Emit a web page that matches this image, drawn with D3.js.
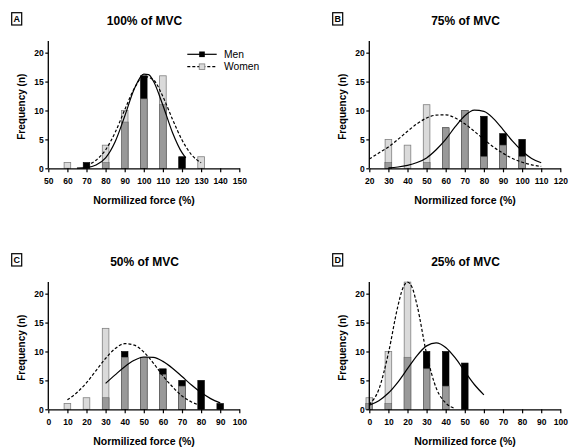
<!DOCTYPE html>
<html>
<head>
<meta charset="utf-8">
<script src="https://cdn.jsdelivr.net/npm/d3@7/dist/d3.min.js"></script>
<style>
  html, body { margin: 0; padding: 0; background: #fff; }
  svg { display: block; font-family: "Liberation Sans", Arial, sans-serif; }
</style>
</head>
<body>
<svg id="chart" width="569" height="447"></svg>
<script>
// ---------- DATA ----------
const panelLabels = ["A", "B", "C", "D"];
const panelTitles = ["100% of MVC", "75% of MVC", "50% of MVC", "25% of MVC"];
const xDomains = [[50, 150], [20, 120], [0, 100], [0, 100]];
const xTicksA = [50, 60, 70, 80, 90, 100, 110, 120, 130, 140, 150];
const xTicksB = [20, 30, 40, 50, 60, 70, 80, 90, 100, 110, 120];
const xTicksC = [0, 10, 20, 30, 40, 50, 60, 70, 80, 90, 100];
const xTicksD = [0, 10, 20, 30, 40, 50, 60, 70, 80, 90, 100];
const yTicks = [0, 5, 10, 15, 20];
const yMax = 22;
const seriesNames = ["Men", "Women"];
const xTitle = "Normilized force (%)";
const yTitle = "Frequency (n)";

// histogram bins
const binsA = [60, 70, 80, 90, 100, 110, 120, 130];
const menA = [0, 1, 1, 8, 16, 11, 2, 0];
const womenA = [1, 0, 4, 10, 12, 16, 0, 2];

const binsB = [30, 40, 50, 60, 70, 80, 90, 100];
const menB = [1, 0, 1, 7, 10, 9, 6, 5];
const womenB = [5, 4, 11, 7, 10, 2, 4, 2];

const binsC = [10, 20, 30, 40, 50, 60, 70, 80, 90];
const menC = [0, 0, 2, 10, 9, 7, 5, 5, 1];
const womenC = [1, 2, 14, 9, 9, 6, 4, 0, 0];

const binsD = [0, 10, 20, 30, 40, 50];
const menD = [1, 1, 9, 10, 10, 8];
const womenD = [2, 10, 22, 7, 4, 0];

// fitted curves
const menCurveXA = [65, 70, 75, 80, 85, 90, 95, 100, 102.5, 105, 110, 115, 120, 122];
const menCurveYA = [0.02, 0.13, 0.56, 1.8, 4.6, 9.0, 13.7, 16.3, 16.2, 15.1, 10.9, 6.2, 2.7, 1.8];
const womenCurveXA = [70, 75, 80, 85, 90, 95, 100, 105, 110, 115, 120, 125, 130];
const womenCurveYA = [0.51, 1.4, 3.2, 6.2, 10.1, 13.8, 15.9, 15.3, 12.4, 8.5, 4.9, 2.35, 0.95];

const menCurveXB = [30, 35, 40, 45, 50, 55, 60, 65, 70, 75, 80, 85, 90, 95, 100, 105, 110];
const menCurveYB = [0.08, 0.22, 0.5, 1.0, 1.8, 3.2, 5.0, 7.2, 9.1, 10.05, 9.85, 8.6, 6.7, 4.7, 3.0, 1.7, 0.95];
const womenCurveXB = [20, 25, 30, 35, 40, 45, 50, 55, 60, 65, 70, 75, 80, 85, 90, 95, 100, 105, 110];
const womenCurveYB = [1.6, 2.65, 3.7, 5.0, 6.4, 7.7, 8.7, 9.2, 9.25, 8.7, 7.7, 6.4, 5.0, 3.7, 2.6, 1.7, 1.05, 0.6, 0.33];

const menCurveXC = [30, 35, 40, 45, 50, 55, 60, 65, 70, 75, 80, 85, 90];
const menCurveYC = [4.48, 5.96, 7.37, 8.47, 9.05, 8.98, 8.29, 7.11, 5.67, 4.2, 2.89, 1.85, 1.1];
const womenCurveXC = [10, 15, 20, 25, 30, 35, 40, 45, 50, 55, 60, 65, 70, 75, 80];
const womenCurveYC = [1.64, 2.9, 4.6, 6.7, 8.8, 10.5, 11.35, 11.1, 9.9, 8.0, 5.8, 3.9, 2.3, 1.27, 0.63];

const menCurveXD = [0, 5, 10, 15, 20, 25, 30, 35, 40, 45, 50, 55, 60];
const menCurveYD = [0.7, 1.49, 2.81, 4.71, 7.02, 9.3, 10.97, 11.5, 10.7, 8.88, 6.54, 4.29, 2.5];
const womenCurveXD = [0, 5, 10, 15, 17.5, 20, 22.5, 25, 30, 35, 40, 45];
const womenCurveYD = [0.82, 3.46, 9.7, 17.9, 20.9, 22, 21.0, 18.0, 9.6, 3.7, 1.1, 0.15];

// ---------- BUILD ----------
const panels = [
  { xTicks: xTicksA, bins: binsA, men: menA, women: womenA, mcx: menCurveXA, mcy: menCurveYA, wcx: womenCurveXA, wcy: womenCurveYA },
  { xTicks: xTicksB, bins: binsB, men: menB, women: womenB, mcx: menCurveXB, mcy: menCurveYB, wcx: womenCurveXB, wcy: womenCurveYB },
  { xTicks: xTicksC, bins: binsC, men: menC, women: womenC, mcx: menCurveXC, mcy: menCurveYC, wcx: womenCurveXC, wcy: womenCurveYC },
  { xTicks: xTicksD, bins: binsD, men: menD, women: womenD, mcx: menCurveXD, mcy: menCurveYD, wcx: womenCurveXD, wcy: womenCurveYD }
];
const offsets = [[0, 0], [321, 0], [0, 241], [321, 241]];

const COL_MEN = "#000000";
const COL_WOMEN = "#dadada";
const COL_OVER = "#999999";

const svg = d3.select("#chart");

const X0 = 48.3, X1 = 239.3, YB = 168.3, YT = 41.1;
const barW = 6.6;

panels.forEach((p, i) => {
  const [ox, oy] = offsets[i];
  const g = svg.append("g").attr("transform", `translate(${ox},${oy})`);
  const x = d3.scaleLinear().domain(xDomains[i]).range([X0, X1]);
  const y = d3.scaleLinear().domain([0, yMax]).range([YB, YT]);

  // panel label box
  g.append("rect").attr("x", 11.7).attr("y", 12.7).attr("width", 10).attr("height", 12.3)
    .attr("fill", "none").attr("stroke", "#000").attr("stroke-width", 1.2);
  g.append("text").attr("x", 16.7).attr("y", 22.3).attr("text-anchor", "middle")
    .attr("font-size", 9).attr("font-weight", "bold").text(panelLabels[i]);

  // title
  g.append("text").attr("x", 144.5).attr("y", 25).attr("text-anchor", "middle")
    .attr("font-size", 12).attr("font-weight", "bold").text(panelTitles[i]);

  // bars
  const rows = p.bins.map((b, k) => ({ b, m: p.men[k], w: p.women[k], o: Math.min(p.men[k], p.women[k]) }));
  const bars = g.append("g");
  bars.selectAll(".men").data(rows.filter(r => r.m > 0)).join("rect")
    .attr("x", r => x(r.b) - barW / 2).attr("width", barW)
    .attr("y", r => y(r.m)).attr("height", r => y(0) - y(r.m))
    .attr("fill", COL_MEN).attr("stroke", "#000").attr("stroke-width", 0.6);
  bars.selectAll(".women").data(rows.filter(r => r.w > r.m)).join("rect")
    .attr("x", r => x(r.b) - barW / 2).attr("width", barW)
    .attr("y", r => y(r.w)).attr("height", r => y(0) - y(r.w))
    .attr("fill", COL_WOMEN).attr("stroke", "#808080").attr("stroke-width", 0.8);
  bars.selectAll(".over").data(rows.filter(r => r.o > 0)).join("rect")
    .attr("x", r => x(r.b) - barW / 2).attr("width", barW)
    .attr("y", r => y(r.o)).attr("height", r => y(0) - y(r.o))
    .attr("fill", COL_OVER).attr("stroke", "#6a6a6a").attr("stroke-width", 0.6);

  // curves
  const line = d3.line().x(d => x(d[0])).y(d => y(d[1])).curve(d3.curveMonotoneX);
  g.append("path").datum(p.wcx.map((v, k) => [v, p.wcy[k]]))
    .attr("d", line).attr("fill", "none").attr("stroke", "#000")
    .attr("stroke-width", 1.2).attr("stroke-dasharray", "3,2");
  g.append("path").datum(p.mcx.map((v, k) => [v, p.mcy[k]]))
    .attr("d", line).attr("fill", "none").attr("stroke", "#000")
    .attr("stroke-width", 1.2);

  // axes
  const ya = g.append("g").attr("transform", `translate(${X0},0)`)
    .call(d3.axisLeft(y).tickValues(yTicks).tickSize(3).tickPadding(1.5).tickSizeOuter(0));
  ya.select(".domain").attr("d", `M0,${YB}V${YT}`);
  const xa = g.append("g").attr("transform", `translate(0,${YB})`)
    .call(d3.axisBottom(x).tickValues(p.xTicks).tickSize(4).tickPadding(6).tickSizeOuter(0));
  [ya, xa].forEach(a => {
    a.select(".domain").attr("stroke", "#000").attr("stroke-width", 1.3);
    a.selectAll(".tick line").attr("stroke", "#000").attr("stroke-width", 1.2);
    a.selectAll(".tick text").attr("fill", "#000").attr("font-size", 8.5)
      .attr("font-weight", "bold").attr("font-family", "Liberation Sans, Arial, sans-serif");
  });

  // axis titles
  g.append("text").attr("x", 144).attr("y", 204).attr("text-anchor", "middle")
    .attr("font-size", 10.5).attr("font-weight", "bold").text(xTitle);
  g.append("text").attr("transform", `translate(25,${(YB + YT) / 2 + 2}) rotate(-90)`)
    .attr("text-anchor", "middle").attr("font-size", 10).attr("font-weight", "bold").text(yTitle);

  // legend (panel A only)
  if (i === 0) {
    const lg = g.append("g");
    const ly = [54.3, 66.7];
    lg.append("line").attr("x1", 187.3).attr("x2", 216.7).attr("y1", ly[0]).attr("y2", ly[0])
      .attr("stroke", "#000").attr("stroke-width", 1.2);
    lg.append("rect").attr("x", 199.2).attr("y", ly[0] - 2.8).attr("width", 5.6).attr("height", 5.6)
      .attr("fill", COL_MEN);
    lg.append("line").attr("x1", 187.3).attr("x2", 216.7).attr("y1", ly[1]).attr("y2", ly[1])
      .attr("stroke", "#000").attr("stroke-width", 1.2).attr("stroke-dasharray", "3,2");
    lg.append("rect").attr("x", 199.2).attr("y", ly[1] - 2.8).attr("width", 5.6).attr("height", 5.6)
      .attr("fill", COL_WOMEN).attr("stroke", "#808080").attr("stroke-width", 0.8);
    seriesNames.forEach((n, k) => {
      lg.append("text").attr("x", 224).attr("y", ly[k] + 3.7).attr("font-size", 10.3).text(n);
    });
  }
});
</script>
</body>
</html>
